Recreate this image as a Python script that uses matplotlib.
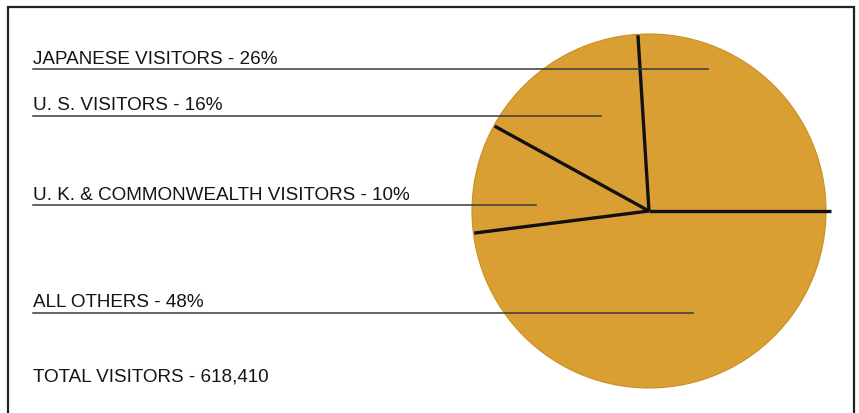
import numpy as np
import matplotlib
matplotlib.use('Agg')
import matplotlib.pyplot as plt

plt.rcParams['font.family'] = ['Liberation Sans', 'DejaVu Sans']

# visitor breakdown
groups = ['JAPANESE VISITORS', 'U. S. VISITORS',
          'U. K. & COMMONWEALTH VISITORS', 'ALL OTHERS']
shares = [26, 16, 10, 48]
total_visitors = 618410

W, H = 859, 413
gold = '#D99F33'
ink = '#141414'

fig = plt.figure(figsize=(W / 100, H / 100), dpi=100)
ax = fig.add_axes([0, 0, 1, 1])

# pie centre / radius in pixel units (y measured from the bottom)
cx, cy, r = 649, H - 211, 177
start = 0

ax.pie(shares, startangle=start, counterclock=True, colors=[gold] * len(shares),
       center=(cx, cy), radius=r, wedgeprops=dict(edgecolor='none', linewidth=0))
circ = plt.Circle((cx, cy), r, fill=False, edgecolor='#C98E25', lw=0.8)
ax.add_patch(circ)

# black dividers between slices
bounds = start + 360 * np.concatenate([[0], np.cumsum(shares)[:-1]]) / sum(shares)
for i, a in enumerate(bounds):
    L = r * 1.03 if i == 0 else r * 0.995
    t = np.deg2rad(a)
    ax.plot([cx, cx + L * np.cos(t)], [cy, cy + L * np.sin(t)],
            color='#111111', lw=2.4, solid_capstyle='butt', zorder=3)

# labels with underline leaders running into the slices
text_x = 33
fs = 13.6
baselines = [64, 110, 200, 307]
underlines = [69, 116, 205, 313]
leader_ends = [708, 601, 536, 693]
for name, pct, yb, yu, xe in zip(groups, shares, baselines, underlines, leader_ends):
    ax.text(text_x, H - yb, f'{name} - {pct}%', fontsize=fs, color=ink,
            ha='left', va='baseline')
    ax.plot([text_x, xe], [H - yu, H - yu], color='#3a3a3a', lw=1.1, zorder=4)

ax.text(text_x, H - 381, f'TOTAL VISITORS - {total_visitors:,}', fontsize=fs,
        color=ink, ha='left', va='baseline')

# open-bottomed frame
ax.plot([8, 8, 854, 854], [0, H - 7, H - 7, 0], color='#222222', lw=1.6,
        solid_joinstyle='miter', zorder=5)

ax.set_xlim(0, W)
ax.set_ylim(0, H)
ax.set_aspect('equal')
ax.axis('off')

fig.savefig('out.png', dpi=100, facecolor='white')
